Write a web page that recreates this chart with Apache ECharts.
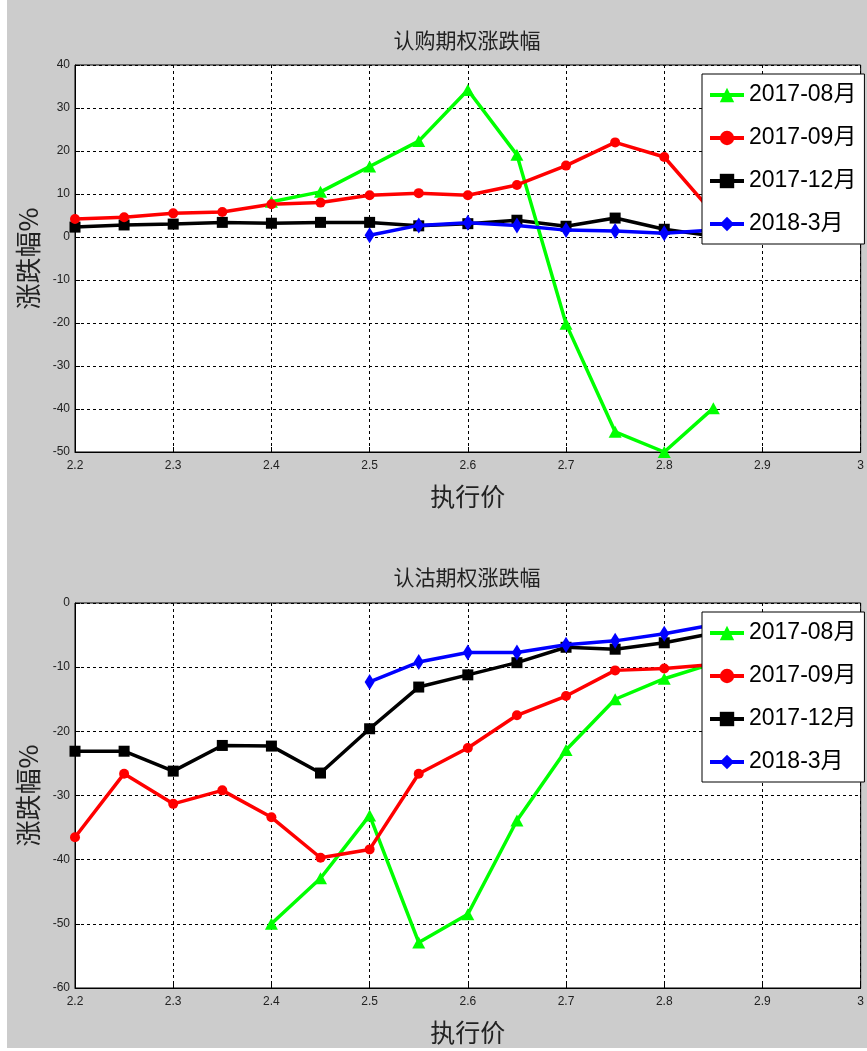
<!DOCTYPE html>
<html><head><meta charset="utf-8">
<script src="https://cdn.jsdelivr.net/npm/echarts@6/dist/echarts.min.js"></script>
<style>
html,body{margin:0;padding:0;background:#fff;}
#c{position:absolute;left:7px;top:0;width:860px;height:1048px;background:#cccccc;}
</style></head><body>
<div id="c"></div>
<script>
// Data
const strikes = [2.2, 2.25, 2.3, 2.35, 2.4, 2.45, 2.5, 2.55, 2.6, 2.65, 2.7, 2.75, 2.8, 2.85];
const seriesNames = ['2017-08月', '2017-09月', '2017-12月', '2018-3月'];
const xTicks = ['2.2','2.3','2.4','2.5','2.6','2.7','2.8','2.9','3'];
// 认购期权涨跌幅 (call)
const call_0708 = [null, null, null, null, 8.2, 10.5, 16.4, 22.3, 34.2, 19.1, -20.2, -45.3, -50, -39.8];
const call_0709 = [4.2, 4.6, 5.5, 5.8, 7.6, 8.0, 9.7, 10.2, 9.7, 12.1, 16.6, 22.0, 18.6, 5.5];
const call_0712 = [2.3, 2.8, 3.0, 3.4, 3.2, 3.4, 3.4, 2.6, 3.1, 3.9, 2.5, 4.4, 1.8, 0.2];
const call_1803 = [null, null, null, null, null, null, 0.4, 2.7, 3.3, 2.7, 1.6, 1.4, 0.9, 1.6];
// 认沽期权涨跌幅 (put)
const put_0708 = [null, null, null, null, -50, -42.9, -33.1, -52.9, -48.5, -33.9, -22.9, -15.0, -11.8, -9.4];
const put_0709 = [-36.5, -26.6, -31.3, -29.2, -33.4, -39.7, -38.4, -26.6, -22.6, -17.5, -14.5, -10.5, -10.2, -9.6];
const put_0712 = [-23.1, -23.1, -26.2, -22.2, -22.3, -26.5, -19.6, -13.1, -11.2, -9.3, -6.9, -7.2, -6.2, -4.7];
const put_1803 = [null, null, null, null, null, null, -12.3, -9.2, -7.7, -7.7, -6.5, -5.9, -4.8, -3.4];

const pairs = arr => strikes.map((s, i) => [s, arr[i]]).filter(p => p[1] !== null);

const colors = ['#00ff00', '#ff0000', '#000000', '#0000ff'];
const symbols = ['triangle', 'circle', 'rect', 'diamond'];
const symSizes = [[13, 12], 10, 11, [10, 16]];

const narrow = "'Liberation Sans','Arial','Noto Sans CJK SC',sans-serif";
const cjk = "'Noto Sans CJK SC',sans-serif";

function mkX(gi) {
  return {
    type: 'value', gridIndex: gi, min: 2.2, max: 3, interval: 0.1,
    name: '执行价', nameLocation: 'middle', nameGap: 32,
    nameTextStyle: {fontFamily: cjk, fontSize: 25, color: '#222'},
    axisLine: {onZero: false, lineStyle: {color: '#000', width: 1}},
    axisTick: {inside: true, length: 5, lineStyle: {color: '#000'}},
    axisLabel: {fontFamily: narrow, fontSize: 12, color: '#222', margin: 8,
      formatter: v => xTicks[Math.round((v - 2.2) * 10)]},
    splitLine: {show: true, lineStyle: {color: '#000', type: [3, 3], width: 1}}
  };
}
function mkY(gi, mn, mx) {
  return {
    type: 'value', gridIndex: gi, min: mn, max: mx, interval: 10,
    name: '涨跌幅%', nameLocation: 'middle', nameGap: 34, nameRotate: 90,
    nameTextStyle: {fontFamily: cjk, fontSize: 26, color: '#222'},
    axisLine: {lineStyle: {color: '#000', width: 1}},
    axisTick: {inside: true, length: 5, lineStyle: {color: '#000'}},
    axisLabel: {fontFamily: narrow, fontSize: 12, color: '#222', margin: 5},
    splitLine: {show: true, lineStyle: {color: '#000', type: [3, 3], width: 1}}
  };
}
function mkSeries(gi, arrs) {
  return arrs.map((a, k) => ({
    type: 'line', name: seriesNames[k], xAxisIndex: gi, yAxisIndex: gi,
    data: pairs(a), symbol: symbols[k], symbolSize: symSizes[k], showAllSymbol: true,
    lineStyle: {color: colors[k], width: 3.5}, itemStyle: {color: colors[k]},
    emphasis: {disabled: true}, animation: false, z: k === 2 ? 2 : 3
  }));
}
function mkLegend(top) {
  return {
    orient: 'vertical', left: 695, top: top, data: seriesNames, z: 20,
    backgroundColor: '#fff', borderColor: '#000', borderWidth: 1,
    padding: [6, 8, 5, 6], itemGap: 13, itemWidth: 34, itemHeight: 18,
    lineStyle: {width: 4},
    textStyle: {fontFamily: narrow, fontSize: 23, color: '#000', lineHeight: 30},
    selectedMode: false
  };
}
const chart = echarts.init(document.getElementById('c'), null, {renderer: 'canvas'});
chart.setOption({
  animation: false,
  title: [
    {text: '认购期权涨跌幅', left: 455, top: 25, textAlign: 'center',
      textStyle: {fontFamily: cjk, fontSize: 21, fontWeight: 'normal', color: '#222'}},
    {text: '认沽期权涨跌幅', left: 455, top: 562, textAlign: 'center',
      textStyle: {fontFamily: cjk, fontSize: 21, fontWeight: 'normal', color: '#222'}}
  ],
  grid: [
    {left: 55, top: 65, width: 800, height: 387, show: true, backgroundColor: '#fff', borderColor: '#000', borderWidth: 1},
    {left: 55, top: 603, width: 800, height: 385, show: true, backgroundColor: '#fff', borderColor: '#000', borderWidth: 1}
  ],
  xAxis: [mkX(0), mkX(1)],
  yAxis: [mkY(0, -50, 40), mkY(1, -60, 0)],
  legend: [mkLegend(74), mkLegend(612)],
  series: [].concat(
    mkSeries(0, [call_0708, call_0709, call_0712, call_1803]),
    mkSeries(1, [put_0708, put_0709, put_0712, put_1803])
  )
});
</script>
</body></html>
